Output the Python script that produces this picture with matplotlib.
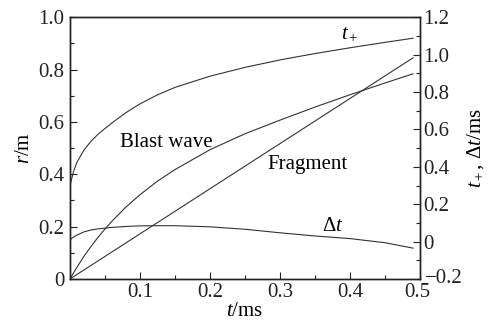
import numpy as np
import matplotlib
matplotlib.use('Agg')
import matplotlib.pyplot as plt
import matplotlib.transforms as mtransforms
from matplotlib.ticker import MultipleLocator

plt.rcParams['font.family'] = 'Liberation Serif'
plt.rcParams['mathtext.fontset'] = 'custom'
plt.rcParams['mathtext.rm'] = 'Liberation Serif'
plt.rcParams['mathtext.it'] = 'Liberation Serif:italic'

# time (ms)
t = [0, 0.005, 0.01, 0.02, 0.03, 0.04, 0.05, 0.06, 0.08, 0.1, 0.125, 0.15, 0.2,
     0.25, 0.3, 0.35, 0.4, 0.45, 0.49]
# blast wave radius (m), left axis
blast = [0, 0.023, 0.045, 0.087, 0.124, 0.159, 0.191, 0.221, 0.275, 0.322, 0.374, 0.418,
         0.494, 0.555, 0.607, 0.657, 0.704, 0.749, 0.784]
# fragment radius (m), straight line
t_frag = [0, 0.49]
frag = [0, 0.845]
# t+ and delta t (ms), right axis
t_plus = [0.30, 0.375, 0.425, 0.49, 0.537, 0.574, 0.605, 0.635, 0.69, 0.737, 0.785, 0.825,
          0.885, 0.932, 0.972, 1.006, 1.037, 1.066, 1.088]
dt = [0.01, 0.024, 0.035, 0.052, 0.062, 0.068, 0.072, 0.076, 0.081, 0.084, 0.085, 0.085,
      0.079, 0.066, 0.047, 0.03, 0.016, -0.006, -0.035]

fig = plt.figure(figsize=(4.94, 3.24), dpi=100)
ax = fig.add_axes([0.1417, 0.139, 0.7085, 0.8076])
ax2 = ax.twinx()

lc = '#333333'
ax.plot(t, blast, color=lc, lw=0.8)
ax.plot(t_frag, frag, color=lc, lw=0.8)
ax2.plot(t, t_plus, color=lc, lw=0.8)
ax2.plot(t, dt, color=lc, lw=0.8)

ax.set_xlim(0, 0.5)
ax.set_ylim(0, 1.0)
ax2.set_ylim(-0.2, 1.2)

ax.xaxis.set_minor_locator(MultipleLocator(0.05))
ax.yaxis.set_minor_locator(MultipleLocator(0.1))
ax2.yaxis.set_minor_locator(MultipleLocator(0.1))

ax.set_xticks([0.1, 0.2, 0.3, 0.4, 0.5])
ax.set_xticklabels(['0.1', '0.2', '0.3', '0.4', '0.5'])
ax.set_yticks([0, 0.2, 0.4, 0.6, 0.8, 1.0])
ax.set_yticklabels(['0', '0.2', '0.4', '0.6', '0.8', '1.0'])
ax2.set_yticks([-0.2, 0, 0.2, 0.4, 0.6, 0.8, 1.0, 1.2])
ax2.set_yticklabels(['\u22120.2', '0', '0.2', '0.4', '0.6', '0.8', '1.0', '1.2'])

for a in (ax, ax2):
    a.tick_params(which='both', direction='in', labelsize=15, width=0.8, colors='#222222')
    a.tick_params(which='major', length=5)
    a.tick_params(which='minor', length=3)
    for s in a.spines.values():
        s.set_linewidth(1.0)
        s.set_color('#222222')
ax.tick_params(axis='x', pad=3)
ax.tick_params(axis='y', pad=4)
ax2.tick_params(axis='y', pad=2)

# keep "0.5" and "-0.2" from running into each other at the corner
lab = ax.get_xticklabels()[-1]
lab.set_transform(lab.get_transform() + mtransforms.ScaledTranslation(-3 / 100, 0, fig.dpi_scale_trans))
lab = ax2.get_yticklabels()[0]
lab.set_transform(lab.get_transform() + mtransforms.ScaledTranslation(2 / 100, 3 / 100, fig.dpi_scale_trans))

ax.set_xlabel('$t$/ms', fontsize=15, labelpad=0)
ax.set_ylabel('$r$/m', fontsize=15, labelpad=3)
ax2.set_ylabel('$t_+$, \u0394$t$/ms', fontsize=15, labelpad=2)

ax.text(0.1375, 0.52, 'Blast wave', fontsize=15, ha='center', va='center')
ax.text(0.34, 0.436, 'Fragment', fontsize=15, ha='center', va='center')
ax2.text(0.400, 1.11, '$t_+$', fontsize=15, ha='center', va='center')
ax2.text(0.375, 0.083, '\u0394$t$', fontsize=15, ha='center', va='center')

fig.savefig('out.png', dpi=100)
